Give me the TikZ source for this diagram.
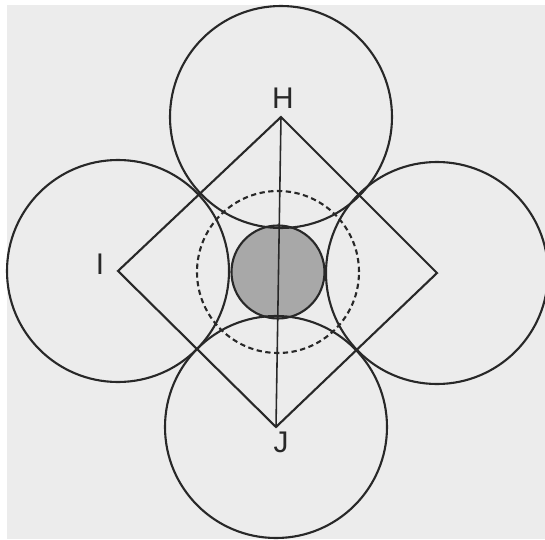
\documentclass[tikz,border=0pt]{standalone}
\usepackage{fontspec}
\setmainfont{Liberation Sans}
\usepackage{tikz}
\usetikzlibrary{calc}
\definecolor{kertas}{RGB}{236,236,236}
\definecolor{tinta}{RGB}{40,40,40}
\definecolor{arsir}{RGB}{168,168,168}

\begin{document}
\begin{tikzpicture}[x=0.02cm,y=0.02cm,line width=1.2pt,
    garis/.style={tinta},
    label/.style={tinta,font=\fontsize{17}{19}\selectfont,inner sep=0pt}]

    % Latar halaman
    \fill[white] (0,0) rectangle (545,539);
    \fill[kertas] (7,0) rectangle (545,534);
    \useasboundingbox (0,0) rectangle (545,539);

    % Titik sudut belah ketupat
    \coordinate (H) at (281,422);
    \coordinate (I) at (118,268);
    \coordinate (J) at (276,112);
    \coordinate (K) at (437,266);
    \coordinate (O) at (278,267);

    % Gambar lingkaran pusat yang diarsir
    \filldraw[garis,fill=arsir] (O) circle (46.5);

    % Gambar lingkaran putus-putus
    \draw[garis,dash pattern=on 3pt off 2pt] (O) circle (81);

    % Gambar empat lingkaran besar di setiap sudut
    \foreach \p in {H,I,J,K}
        \draw[garis] (\p) circle (111);

    % Gambar belah ketupat dan garis tegak
    \draw[garis,line join=miter] (H)--(I)--(J)--(K)--cycle;
    \draw[garis,line width=0.9pt] (H)--(J);

    % Label titik
    \node[label] (lH) at (283,441) {H};
    \node[label] (lI) at (100,275) {I};
    \node[label] (lJ) at (281,97) {J};

\end{tikzpicture}
\end{document}
